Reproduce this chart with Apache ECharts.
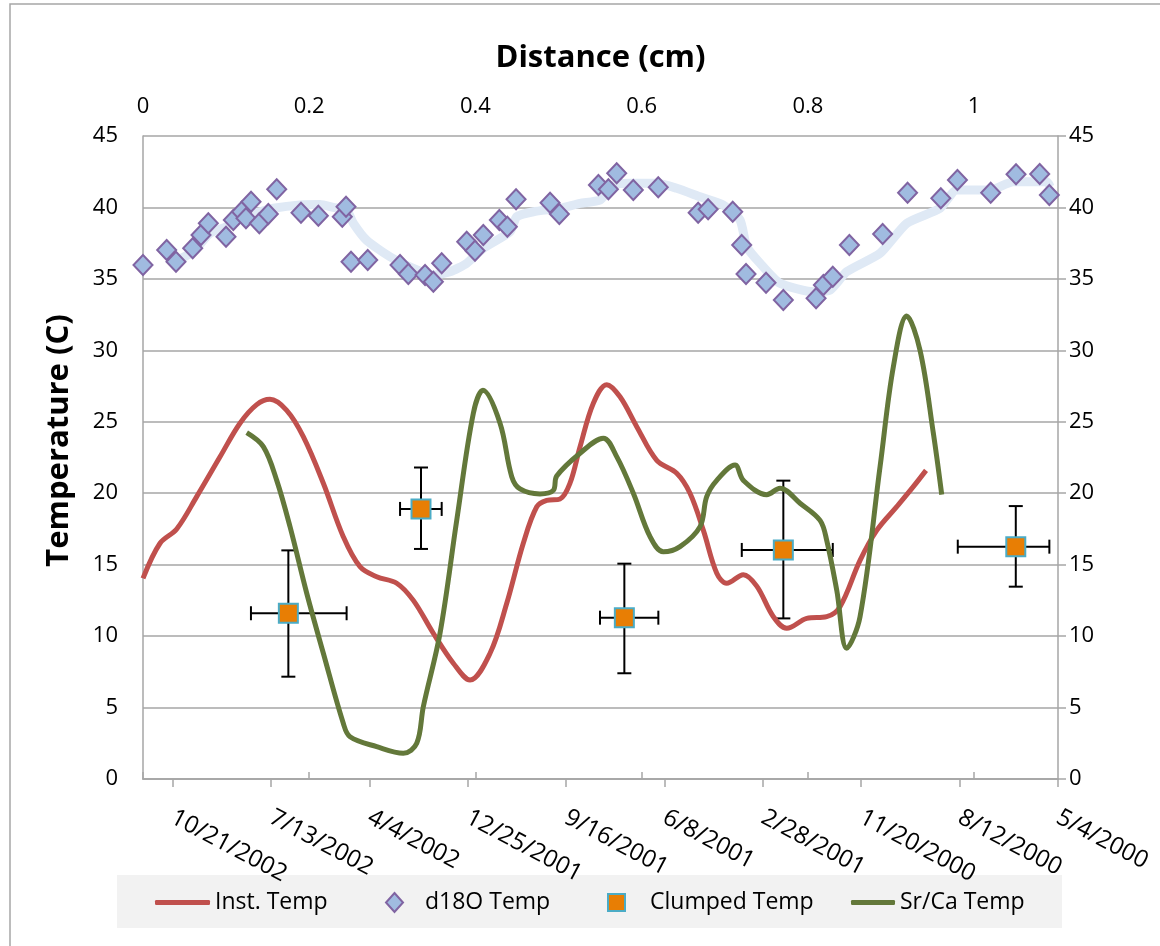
<!DOCTYPE html>
<html><head><meta charset="utf-8">
<script src="https://cdn.jsdelivr.net/npm/echarts/dist/echarts.min.js"></script>
<style>html,body{margin:0;padding:0;background:#fff}#c{width:1160px;height:946px}</style>
</head><body><div id="c"></div>
<script>
// Bottom axis: days after 5/4/2000, ticks every 100 days
const dateTickLabels = ['5/4/2000','8/12/2000','11/20/2000','2/28/2001','6/8/2001','9/16/2001','12/25/2001','4/4/2002','7/13/2002','10/21/2002'];
const distTickStep = 0.2;
const tempTickStep = 5;

// Inst. Temp (distance cm, temperature C)
const instDist = [0.000,0.0205,0.0406,0.0646,0.0927,0.1167,0.1368,0.1528,0.1729,0.1929,0.217,0.241,0.2611,0.2812,0.3053,0.3253,0.3493,0.3734,0.3935,0.4176,0.4377,0.4576,0.4738,0.4858,0.5018,0.5138,0.5259,0.5419,0.558,0.574,0.5941,0.6182,0.6422,0.6582,0.6743,0.6904,0.7024,0.7224,0.7385,0.7585,0.7746,0.7987,0.8227,0.8387,0.8628,0.8829,0.907,0.9269,0.9422];
const instTemp = [14.04,16.5,17.5,19.76,22.55,24.9,26.2,26.57,25.8,23.96,20.7,16.96,14.86,14.16,13.7,12.5,10.2,8.1,6.93,8.8,12.3,16.5,19.05,19.5,19.6,20.7,23.25,26.3,27.6,26.75,24.66,22.3,21.4,20.0,17.4,14.4,13.7,14.3,13.5,11.36,10.55,11.24,11.36,12.06,15.3,17.4,19.06,20.46,21.6];

// Sr/Ca Temp
const srcaDist = [0.1248,0.1448,0.1609,0.1769,0.197,0.217,0.241,0.2491,0.2812,0.3132,0.3294,0.3373,0.3574,0.3775,0.3975,0.4091,0.4296,0.4437,0.4537,0.4777,0.4937,0.4978,0.5259,0.5539,0.57,0.59,0.6101,0.6261,0.6462,0.6703,0.6783,0.6904,0.7124,0.7224,0.7505,0.7665,0.7906,0.8147,0.8227,0.8348,0.8468,0.8628,0.8869,0.9029,0.919,0.935,0.951,0.9611];
const srcaTemp = [24.24,23.26,20.9,17.66,13.0,8.8,3.9,2.96,2.26,1.8,2.5,5.06,10.2,18.1,25.6,27.2,24.9,21.16,20.3,19.95,20.2,21.2,22.8,23.85,22.56,20.0,16.96,15.9,16.26,17.66,19.76,20.9,21.97,20.9,19.9,20.35,19.3,18.1,16.7,13.2,9.15,11.36,21.86,28.86,32.4,30.0,24.2,19.9];

// d18O Temp points
const d18Dist = [0.0,0.0285,0.0397,0.0598,0.0698,0.0786,0.0999,0.1087,0.1187,0.1239,0.13,0.14,0.1508,0.1609,0.1901,0.211,0.2398,0.2443,0.2503,0.2704,0.3093,0.3193,0.3394,0.3494,0.3594,0.3895,0.3995,0.4095,0.4288,0.4384,0.4489,0.4898,0.501,0.548,0.560,0.570,0.590,0.620,0.668,0.680,0.7096,0.7204,0.7256,0.7497,0.7705,0.8099,0.8187,0.83,0.85,0.890,0.920,0.960,0.980,1.020,1.0505,1.079,1.0906];
const d18Temp = [35.97,37.02,36.2,37.14,38.07,38.89,37.95,39.12,39.7,39.24,40.4,38.89,39.54,41.27,39.63,39.42,39.35,40.05,36.2,36.32,35.97,35.34,35.27,34.8,36.09,37.6,36.97,38.07,39.12,38.65,40.57,40.33,39.54,41.57,41.27,42.39,41.22,41.41,39.63,39.87,39.7,37.37,35.34,34.73,33.52,33.64,34.57,35.15,37.37,38.14,41.03,40.64,41.92,41.03,42.32,42.34,40.87];

// d18O moving-average trend
const trendDist = [0.0406,0.0605,0.0806,0.1007,0.1207,0.1408,0.1568,0.1889,0.213,0.229,0.2451,0.2531,0.2692,0.2972,0.3253,0.3493,0.3694,0.3895,0.4095,0.4416,0.4497,0.4697,0.5018,0.5259,0.5499,0.566,0.586,0.6182,0.6422,0.6703,0.6983,0.7184,0.7265,0.7425,0.7665,0.8066,0.8267,0.8468,0.8869,0.919,0.9591,0.9792,1.0193,1.0473,1.0875,1.0915];
const trendTemp = [36.3,36.9,38.2,38.65,39.35,39.7,39.94,40.17,40.2,40.0,39.8,38.9,37.7,36.55,35.74,35.27,35.5,36.09,37.14,38.3,39.35,39.7,39.94,40.29,40.52,41.57,41.69,41.69,41.34,40.75,40.17,39.12,37.25,36.09,34.69,34.1,34.22,35.5,36.79,38.89,39.94,41.22,41.22,41.8,41.8,41.45];

// Clumped Temp with error bars
const clumpDist = [0.1749,0.3345,0.5792,0.7705,1.0502];
const clumpTemp = [11.6,18.9,11.29,16.03,16.26];
const clumpDistLow = [0.1299,0.3093,0.5499,0.7205,0.9804];
const clumpDistHigh = [0.2450,0.3594,0.6201,0.830,1.0906];
const clumpTempLow = [7.16,16.1,7.4,11.24,13.46];
const clumpTempHigh = [16.0,21.8,15.07,20.88,19.1];

const zip = (a, b) => a.map((v, i) => [v, b[i]]);
const FONT = 'Open Sans';
const GRID = '#a6a6a6';
const RED = '#c0504d';
const GREEN = '#63783a';
const chart = echarts.init(document.getElementById('c'), null, {renderer: 'canvas'});

const legendText = {fontFamily: FONT, fontSize: 23, color: '#000'};
const option = {
  backgroundColor: '#fff',
  animation: false,
  textStyle: {fontFamily: FONT},
  graphic: [
    {type: 'rect', z: -10, shape: {x: 10, y: 4, width: 1200, height: 1000}, style: {fill: 'none', stroke: '#a6a6a6', lineWidth: 1.5}},
    {type: 'rect', z: -10, shape: {x: 117, y: 875, width: 945, height: 53}, style: {fill: '#f2f2f2'}}
  ],
  grid: {left: 143, right: 102, top: 136, bottom: 167, containLabel: false, outerBoundsMode: 'none'},
  legend: [
    {data: [{name: 'Inst. Temp', icon: 'roundRect', itemStyle: {color: RED}}], left: 155, top: 891, padding: 0, itemWidth: 55, itemHeight: 5, selectedMode: false, textStyle: legendText},
    {data: ['d18O Temp'], left: 385, top: 891, padding: 0, itemWidth: 17, itemHeight: 19, selectedMode: false, textStyle: Object.assign({padding: [0, 0, 0, 17]}, legendText)},
    {data: ['Clumped Temp'], left: 607, top: 891, padding: 0, itemWidth: 17, itemHeight: 17, selectedMode: false, textStyle: Object.assign({padding: [0, 0, 0, 20]}, legendText)},
    {data: [{name: 'Sr/Ca Temp', icon: 'roundRect', itemStyle: {color: GREEN}}], left: 851, top: 891, padding: 0, itemWidth: 44, itemHeight: 5, selectedMode: false, textStyle: legendText}
  ],
  xAxis: [
    {
      type: 'value', position: 'top', min: 0, max: 1.101, interval: distTickStep,
      name: 'Distance (cm)', nameLocation: 'middle', nameGap: 62,
      nameTextStyle: {fontFamily: FONT, fontSize: 31, fontWeight: 'bold', color: '#000'},
      axisLine: {show: true, lineStyle: {color: GRID, width: 1.5}},
      axisTick: {show: true, length: 7, lineStyle: {color: GRID, width: 1.5}},
      axisLabel: {margin: 18, fontFamily: FONT, fontSize: 22, color: '#000', showMaxLabel: false},
      splitLine: {show: false}
    },
    {
      type: 'value', position: 'bottom', inverse: true, min: 0, max: 930, interval: 100,
      axisLine: {show: true, onZero: false, lineStyle: {color: GRID, width: 1.5}},
      axisTick: {show: true, length: 8, lineStyle: {color: GRID, width: 1.5}},
      axisLabel: {
        margin: 37, rotate: -28, fontFamily: FONT, fontSize: 24, color: '#000', showMaxLabel: false,
        formatter: v => dateTickLabels[Math.round(v / 100)] || ''
      },
      splitLine: {show: false}
    }
  ],
  yAxis: [
    {
      type: 'value', position: 'left', min: 0, max: 45, interval: tempTickStep,
      name: 'Temperature (C)', nameLocation: 'middle', nameGap: 68,
      nameTextStyle: {fontFamily: FONT, fontSize: 31, fontWeight: 'bold', color: '#000', padding: [0, 0, 0, 34]},
      axisLine: {show: true, lineStyle: {color: GRID, width: 1.5}},
      axisTick: {show: false},
      axisLabel: {margin: 25, fontFamily: FONT, fontSize: 22, color: '#000'},
      splitLine: {show: true, lineStyle: {color: GRID, width: 1.5}}
    },
    {
      type: 'value', position: 'right', min: 0, max: 45, interval: tempTickStep,
      axisLine: {show: true, lineStyle: {color: GRID, width: 1.5}},
      axisTick: {show: true, length: 8, lineStyle: {color: GRID, width: 1.5}},
      axisLabel: {margin: 11, fontFamily: FONT, fontSize: 22, color: '#000'},
      splitLine: {show: false}
    }
  ],
  series: [
    {
      name: 'd18O trend', type: 'line', xAxisIndex: 0, yAxisIndex: 0, data: zip(trendDist, trendTemp),
      smooth: 0.2, symbol: 'none', silent: true, z: 1,
      lineStyle: {color: '#dfe9f5', width: 9}
    },
    {
      name: 'Inst. Temp', type: 'line', xAxisIndex: 0, yAxisIndex: 0, data: zip(instDist, instTemp),
      smooth: 0.35, symbol: 'none', z: 3,
      itemStyle: {color: RED},
      lineStyle: {color: RED, width: 5}
    },
    {
      name: 'd18O Temp', type: 'scatter', xAxisIndex: 0, yAxisIndex: 0, data: zip(d18Dist, d18Temp),
      symbol: 'diamond', symbolSize: [19, 20], z: 4,
      itemStyle: {color: '#a0bbe0', borderColor: '#8064a2', borderWidth: 2, opacity: 1}
    },
    {
      name: 'Clumped error', type: 'custom', xAxisIndex: 0, yAxisIndex: 0, z: 2, silent: true,
      data: clumpDist.map((d, i) => [d, clumpTemp[i], clumpDistLow[i], clumpDistHigh[i], clumpTempLow[i], clumpTempHigh[i]]),
      encode: {x: [0, 2, 3], y: [1, 4, 5]},
      renderItem: (params, api) => {
        const c = api.coord([api.value(0), api.value(1)]);
        const xl = api.coord([api.value(2), api.value(1)]);
        const xh = api.coord([api.value(3), api.value(1)]);
        const yl = api.coord([api.value(0), api.value(4)]);
        const yh = api.coord([api.value(0), api.value(5)]);
        const st = {stroke: '#000', lineWidth: 2};
        const cap = 7;
        const L = (x1, y1, x2, y2) => ({type: 'line', shape: {x1, y1, x2, y2}, style: st});
        return {type: 'group', children: [
          L(xl[0], c[1], xh[0], c[1]),
          L(xl[0], c[1] - cap, xl[0], c[1] + cap),
          L(xh[0], c[1] - cap, xh[0], c[1] + cap),
          L(c[0], yl[1], c[0], yh[1]),
          L(c[0] - cap, yl[1], c[0] + cap, yl[1]),
          L(c[0] - cap, yh[1], c[0] + cap, yh[1])
        ]};
      }
    },
    {
      name: 'Sr/Ca Temp', type: 'line', xAxisIndex: 0, yAxisIndex: 0, data: zip(srcaDist, srcaTemp),
      smooth: 0.35, symbol: 'none', z: 5,
      itemStyle: {color: GREEN},
      lineStyle: {color: GREEN, width: 5}
    },
    {
      name: 'Clumped Temp', type: 'scatter', xAxisIndex: 0, yAxisIndex: 0, data: zip(clumpDist, clumpTemp),
      symbol: 'rect', symbolSize: 19, z: 6,
      itemStyle: {color: '#e87e04', borderColor: '#4bacc6', borderWidth: 2, opacity: 1}
    }
  ]
};
chart.setOption(option);
</script>
</body></html>
